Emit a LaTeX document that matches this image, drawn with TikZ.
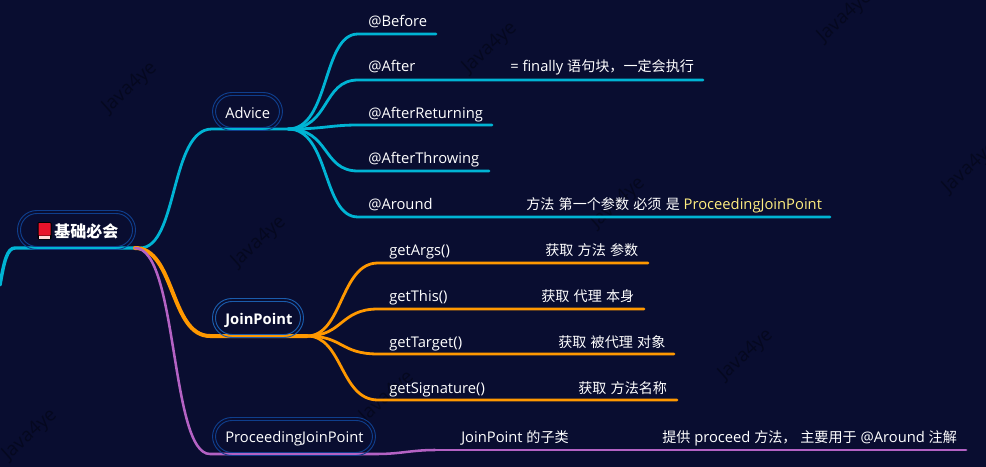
\documentclass[tikz,border=0pt]{standalone}
\usepackage{fontspec}
\setmainfont[Scale=1.005]{Open Sans}
\newfontfamily\cjk[Scale=0.96,WordSpace=1.35]{Noto Sans CJK SC}
\definecolor{bgc}{HTML}{090D30}
\definecolor{cyanb}{HTML}{00B4D4}
\definecolor{orangeb}{HTML}{FF9800}
\definecolor{purpleb}{HTML}{B462C4}
\definecolor{ringc}{HTML}{0F3E8C}
\definecolor{ringj}{HTML}{1A5CAC}
\definecolor{markc}{HTML}{05081F}
\definecolor{yel}{HTML}{FFEE80}
\definecolor{bookred}{HTML}{E8132B}
\tikzset{
 x=0.75pt,y=-0.75pt,
 lab/.style={text=white,anchor=base west,inner sep=0pt,font=\fontsize{11pt}{13pt}\selectfont},
 wm/.style={text=markc,rotate=42,inner sep=0pt,font=\fontsize{14pt}{16pt}\selectfont},
 cb/.style={cyanb,line width=2.1pt,line cap=round},
 ob/.style={orangeb,line width=2.1pt,line cap=round},
 pb/.style={purpleb,line width=1.9pt,line cap=round},
 pillout/.style={draw=ringc,line width=0.7pt,rounded corners=14.5pt},
 pillin/.style={draw=ringc,line width=0.7pt,rounded corners=12.3pt},
}
\begin{document}
\begin{tikzpicture}
\useasboundingbox (0,0) rectangle (986,467);
\fill[bgc] (0,0) rectangle (986,467);
% watermarks
\foreach \n/\p in {w1/{(130,88)},w2/{(490,48)},w3/{(259,242)},w4/{(746,355)},w5/{(845,17)},w6/{(970,168)},w7/{(618,203)},w8/{(30,435)},w9/{(387,397)}}
  \node[wm] (\n) at \p {Java4ye};
% named junctions
\coordinate (rootL) at (15,248);
\coordinate (rootR) at (138,248);
\coordinate (rootS) at (140,248);
\coordinate (adv) at (288,129);
\coordinate (jp) at (307,336);
\coordinate (pjp) at (377,454);
\coordinate (pjpb) at (435,450);
\coordinate (pjpe) at (966,450);
% level 0
\draw[cb,line width=2.6pt] (0,285) .. controls (4,262) and (7,248) .. (rootL) -- (rootR);
% branches
\draw[cb] (rootS) .. controls (178,248) and (170,129) .. (212,129) -- (adv);
\draw[ob,line width=3pt] (135,248) .. controls (175,248) and (170,336) .. (210,336) -- (jp);
\draw[pb] (135,248) .. controls (178,248) and (170,454) .. (210,454) -- (pjp) .. controls (400,454) and (412,450) .. (pjpb);
\draw[pb,line width=2.2pt] (pjpb) -- (pjpe);
% advice leaves
\coordinate (l1) at (358,34);\coordinate (e1) at (436,34);
\coordinate (l2) at (358,80);\coordinate (e2) at (703,80);
\coordinate (l3) at (358,125);\coordinate (e3) at (492,125);
\coordinate (l4) at (358,171);\coordinate (e4) at (489,171);
\coordinate (l5) at (358,217);\coordinate (e5) at (830,217);
\draw[cb] (adv) .. controls (330,129) and (322,34) .. (l1) -- (e1);
\draw[cb] (adv) .. controls (330,129) and (322,80) .. (l2) -- (e2);
\draw[cb] (adv) .. controls (325,129) and (330,125) .. (l3) -- (e3);
\draw[cb] (adv) .. controls (330,129) and (322,171) .. (l4) -- (e4);
\draw[cb] (adv) .. controls (330,129) and (322,217) .. (l5) -- (e5);
% joinpoint leaves
\coordinate (m1) at (378,263);\coordinate (f1) at (648,263);
\coordinate (m2) at (378,309);\coordinate (f2) at (644,309);
\coordinate (m3) at (378,354);\coordinate (f3) at (674,354);
\coordinate (m4) at (378,400);\coordinate (f4) at (677,400);
\draw[ob] (jp) .. controls (343,336) and (340,263) .. (m1) -- (f1);
\draw[ob] (jp) .. controls (343,336) and (340,309) .. (m2) -- (f2);
\draw[ob] (jp) .. controls (343,336) and (340,354) .. (m3) -- (f3);
\draw[ob] (jp) .. controls (343,336) and (340,400) .. (m4) -- (f4);
% pills
\draw[pillout] (17.5,210.5) rectangle (135.5,249.5);
\draw[pillin] (20.5,213.5) rectangle (132.5,246.5);
\draw[pillout] (212.5,92.5) rectangle (282.5,130.5);
\draw[pillin] (215.5,95.5) rectangle (279.5,127.5);
\draw[pillout,draw=ringj] (212.5,298.5) rectangle (303.5,337.5);
\draw[pillin,draw=ringj] (215.5,301.5) rectangle (300.5,334.5);
\draw[pillout] (212.5,417.5) rectangle (375.5,455.5);
\draw[pillin] (215.5,420.5) rectangle (372.5,452.5);
% book emoji
\fill[black,rounded corners=1pt] (37.5,222) rectangle (51.5,239.5);
\fill[bookred,rounded corners=0.5pt] (38.5,223) rectangle (50.5,235.5);
\fill[white!85!red] (38.5,235.5) rectangle (50,238.5);
% text
\node[lab,font=\cjk\bfseries\fontsize{12.5pt}{14pt}\selectfont] (root) at (54,237) {基础必会};
\node[lab] (advice) at (225,118) {Advice};
\node[lab,font=\bfseries\fontsize{11pt}{13pt}\selectfont] (jpn) at (225,324) {JoinPoint};
\node[lab] (pjpn) at (225,442) {ProceedingJoinPoint};
\node[lab] (t1) at (368,27) {@Before};
\node[lab] (t2) at (368,72) {@After};
\node[lab] (t3) at (368,118) {@AfterReturning};
\node[lab] (t4) at (368,163) {@AfterThrowing};
\node[lab] (t5) at (368,209) {@Around};
\node[lab] (t2b) at (510,72) {= finally {\cjk 语句块，一定会执行}};
\node[lab] (t5b) at (526,209) {{\cjk 方法 第一个参数 必须 是} \textcolor{yel}{ProceedingJoinPoint}};
\node[lab] (u1) at (389,255) {getArgs()};
\node[lab] (u2) at (389,301) {getThis()};
\node[lab] (u3) at (389,347) {getTarget()};
\node[lab] (u4) at (389,393) {getSignature()};
\node[lab] (v1) at (545,255) {\cjk 获取 方法 参数};
\node[lab] (v2) at (541,301) {\cjk 获取 代理 本身};
\node[lab] (v3) at (558,347) {\cjk 获取 被代理 对象};
\node[lab] (v4) at (578,393) {\cjk 获取 方法名称};
\node[lab] (x1) at (461,442) {JoinPoint {\cjk 的子类}};
\node[lab] (x2) at (662,442) {{\cjk 提供} proceed {\cjk 方法，} {\cjk 主要用于} @Around {\cjk 注解}};
\end{tikzpicture}
\end{document}
